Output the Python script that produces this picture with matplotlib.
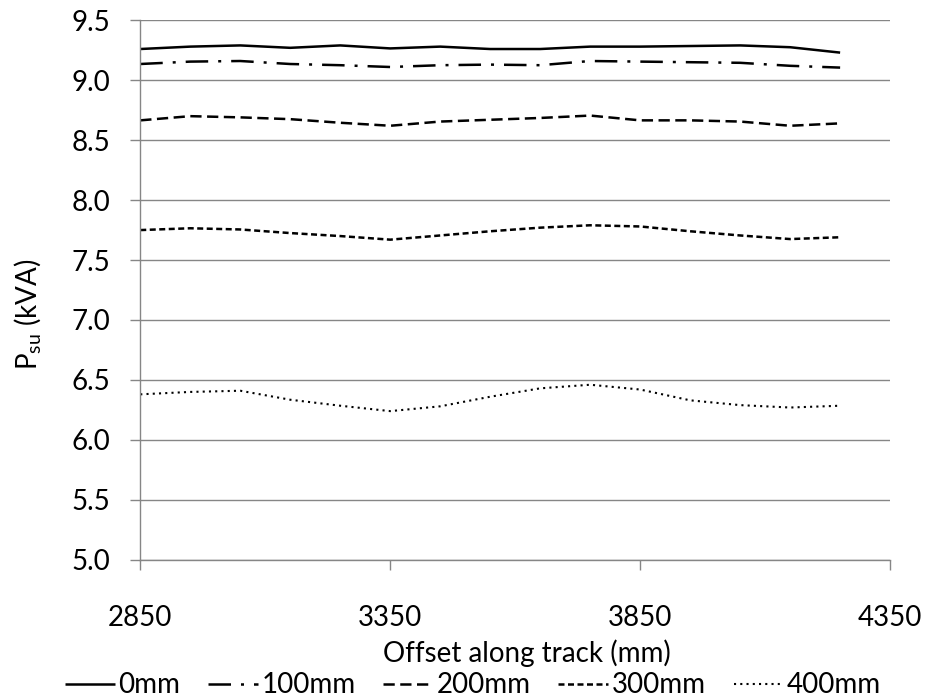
import numpy as np
import matplotlib
matplotlib.use("Agg")
import matplotlib.pyplot as plt

# offset along track (mm)
offset = [2850, 2950, 3050, 3150, 3250, 3350, 3450, 3550,
          3650, 3750, 3850, 3950, 4050, 4150, 4250]

p_0mm = [9.26, 9.28, 9.29, 9.27, 9.29, 9.265, 9.28, 9.26,
         9.26, 9.28, 9.28, 9.285, 9.29, 9.275, 9.23]
p_100mm = [9.135, 9.155, 9.16, 9.135, 9.125, 9.11, 9.125, 9.13,
           9.125, 9.16, 9.155, 9.15, 9.145, 9.12, 9.105]
p_200mm = [8.665, 8.70, 8.69, 8.675, 8.645, 8.62, 8.655, 8.67,
           8.685, 8.705, 8.665, 8.665, 8.655, 8.62, 8.64]
p_300mm = [7.75, 7.765, 7.755, 7.725, 7.70, 7.67, 7.705, 7.74,
           7.77, 7.79, 7.78, 7.74, 7.705, 7.675, 7.69]
p_400mm = [6.38, 6.40, 6.41, 6.335, 6.285, 6.24, 6.28, 6.36,
           6.43, 6.46, 6.42, 6.33, 6.29, 6.27, 6.285]

labels = ["0mm", "100mm", "200mm", "300mm", "400mm"]
x_ticks = [2850, 3350, 3850, 4350]
y_ticks = [5.0, 5.5, 6.0, 6.5, 7.0, 7.5, 8.0, 8.5, 9.0, 9.5]

plt.rcParams['font.family'] = ['Lato', 'DejaVu Sans']
FS = 20

fig = plt.figure(figsize=(9.35, 6.98), dpi=100)
ax = fig.add_axes([0.150, 0.198, 0.802, 0.773])

# dash patterns in linewidth units
styles = [
    '-',
    (0, (9, 4, 1.2, 4)),
    (0, (4.5, 2.2)),
    (0, (2.4, 1.4)),
    (0, (1, 2)),
]
series = [p_0mm, p_100mm, p_200mm, p_300mm, p_400mm]
for vals, ls, lab in zip(series, styles, labels):
    lw = 1.5 if lab == "400mm" else 1.8
    ax.plot(offset, vals, color='black', linestyle=ls, linewidth=lw,
            label=lab, solid_capstyle='butt', dash_capstyle='butt')

grid_color = '#868686'
ax.set_xlim(2850, 4350)
ax.set_ylim(5.0, 9.5)
ax.set_xticks(x_ticks)
ax.set_yticks(y_ticks)
ax.set_yticklabels(["%.1f" % v for v in y_ticks])
ax.yaxis.grid(True, color=grid_color, linewidth=1)
ax.set_axisbelow(True)
for side in ['top', 'right']:
    ax.spines[side].set_visible(False)
for side in ['left', 'bottom']:
    ax.spines[side].set_color(grid_color)
    ax.spines[side].set_linewidth(1)
ax.tick_params(axis='both', colors=grid_color, labelcolor='black',
               labelsize=FS, length=7.5, width=1)
ax.tick_params(axis='x', pad=25)
ax.tick_params(axis='y', pad=14)

ax.set_xlabel("Offset along track (mm)", fontsize=FS)
ax.xaxis.set_label_coords(0.515, -0.148)
ax.set_ylabel("P$_{\\mathregular{su}}$ (kVA)", fontsize=FS)
ax.yaxis.set_label_coords(-0.128, 0.455)

fig.legend(*ax.get_legend_handles_labels(), loc='center',
           bbox_to_anchor=(0.506, 0.018), ncol=5, frameon=False,
           fontsize=FS, handlelength=1.8, handletextpad=0.12,
           columnspacing=1.0, borderaxespad=0, borderpad=0)

fig.savefig("out.png", dpi=100)
